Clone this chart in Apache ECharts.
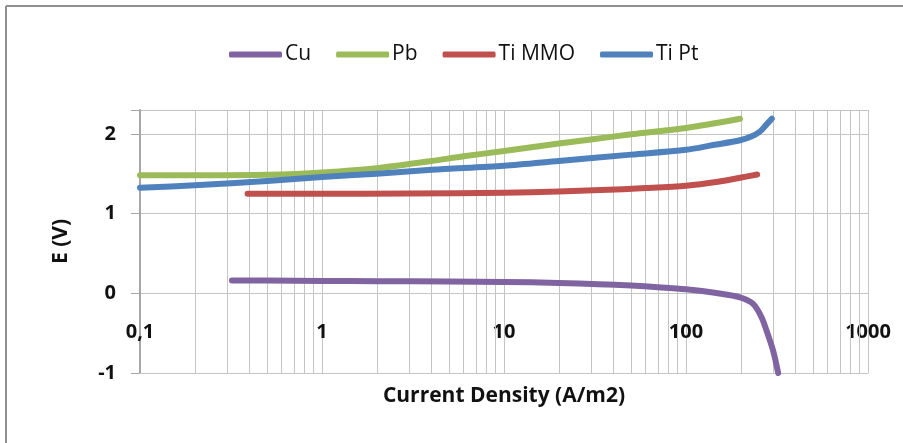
<!DOCTYPE html>
<html>
<head>
<meta charset="utf-8">
<script src="https://cdn.jsdelivr.net/npm/echarts@6/dist/echarts.min.js"></script>
<style>
  html, body { margin: 0; padding: 0; background: #fff; overflow: hidden; }
  #chart { width: 903px; height: 443px; }
</style>
</head>
<body>
<div id="chart"></div>
<script>
// Polarisation curves: electrode potential vs. current density (log scale)
const seriesNames = ['Cu', 'Pb', 'Ti MMO', 'Ti Pt'];
const seriesColors = ['#8064A2', '#9BBB59', '#C0504D', '#4F81BD'];

// [current density (A/m2), E (V)]
const cuData = [
  [0.32, 0.16], [0.5, 0.16], [1, 0.155], [2, 0.152], [5, 0.148], [10, 0.143],
  [20, 0.13], [33, 0.115], [50, 0.097], [70, 0.077], [100, 0.05], [150, 0.0],
  [198, -0.05], [233, -0.13], [260, -0.30], [283, -0.53], [302, -0.73], [321, -1.0]
];
const pbData = [
  [0.1, 1.48], [0.3, 1.48], [0.6, 1.49], [1, 1.515], [2, 1.57], [4, 1.66],
  [6, 1.72], [10, 1.785], [20, 1.88], [30, 1.93], [50, 1.995], [100, 2.075], [198, 2.19]
];
const tiMmoData = [
  [0.39, 1.25], [1, 1.25], [3, 1.252], [10, 1.262], [20, 1.278], [34, 1.295],
  [60, 1.32], [100, 1.35], [150, 1.40], [198, 1.45], [246, 1.49]
];
const tiPtData = [
  [0.1, 1.325], [0.2, 1.355], [0.5, 1.41], [1, 1.46], [2, 1.5], [4, 1.55],
  [10, 1.6], [20, 1.66], [50, 1.74], [100, 1.8], [141, 1.86], [198, 1.92],
  [230, 1.97], [255, 2.03], [275, 2.11], [296, 2.19]
];
const allData = [cuData, pbData, tiMmoData, tiPtData];

// Axis ranges and tick labels
const xMin = 0.1, xMax = 1000;
const yMin = -1, yMax = 2.3, yStep = 1;
const xTickLabels = { 0.1: '0,1', 1: '1', 10: '10', 100: '100', 1000: '1000' };

// Minor vertical gridlines at 2..9 of every decade
const minorGrid = [];
for (let d = xMin; d < xMax; d *= 10) {
  for (let k = 2; k <= 9; k++) minorGrid.push(+(d * k).toPrecision(3));
}

const gridColor = '#c4c4c4';
const axisColor = '#a6a6a6';
const fontFamily = '"Open Sans", "Liberation Sans", sans-serif';

const chart = echarts.init(document.getElementById('chart'), null, { renderer: 'canvas' });

const series = seriesNames.map((name, i) => ({
  name: name,
  type: 'line',
  data: allData[i],
  smooth: 0.3,
  showSymbol: false,
  symbol: 'none',
  z: 3,
  lineStyle: { color: seriesColors[i], width: 6, cap: 'round', join: 'round' },
  itemStyle: { color: seriesColors[i] }
}));

// minor gridlines drawn through the x scale
series.push({
  name: 'minor-grid',
  type: 'line',
  data: [],
  silent: true,
  markLine: {
    silent: true,
    z: 1,
    symbol: ['none', 'none'],
    label: { show: false },
    emphasis: { disabled: true },
    lineStyle: { color: gridColor, width: 1, type: 'solid' },
    data: minorGrid.map(v => ({ xAxis: v }))
  }
});

chart.setOption({
  animation: false,
  backgroundColor: '#ffffff',
  textStyle: { fontFamily: fontFamily },
  // chart frame: only its top and left edges fall inside the view
  graphic: [
    {
      type: 'line',
      shape: { x1: 6, y1: 6, x2: 903, y2: 6 },
      style: { stroke: '#8f8f8f', lineWidth: 2 },
      silent: true
    },
    {
      type: 'line',
      shape: { x1: 6, y1: 6, x2: 6, y2: 443 },
      style: { stroke: '#8f8f8f', lineWidth: 2 },
      silent: true
    }
  ],
  legend: {
    data: seriesNames,
    left: 229,
    top: 44,
    padding: 0,
    itemWidth: 53,
    itemHeight: 6,
    itemGap: 25,
    icon: 'roundRect',
    textStyle: { fontFamily: fontFamily, fontSize: 21, color: '#111', padding: [0, 0, 0, -2] }
  },
  grid: { left: 140, right: 35, top: 110, bottom: 70, containLabel: false, outerBoundsMode: 'none' },
  xAxis: {
    type: 'log',
    logBase: 10,
    min: xMin,
    max: xMax,
    name: 'Current Density (A/m2)',
    nameLocation: 'middle',
    nameGap: 13,
    nameTextStyle: { fontFamily: fontFamily, fontSize: 21, fontWeight: 'bold', color: '#111' },
    axisLine: { onZero: false, lineStyle: { color: gridColor, width: 1 } },
    axisTick: { show: false },
    axisLabel: {
      // tick labels sit just under the E = 0 line
      margin: -51,
      fontFamily: fontFamily, fontSize: 20, fontWeight: 'bold', color: '#111',
      formatter: v => xTickLabels[+(+v).toPrecision(3)] ?? ''
    },
    splitLine: { show: true, lineStyle: { color: gridColor, width: 1 } }
  },
  yAxis: {
    type: 'value',
    min: yMin,
    max: yMax,
    interval: yStep,
    name: 'E (V)',
    nameLocation: 'middle',
    nameRotate: 90,
    nameGap: 68,
    nameTextStyle: { fontFamily: fontFamily, fontSize: 21, fontWeight: 'bold', color: '#111' },
    axisLine: { show: true, onZero: false, lineStyle: { color: axisColor, width: 2 } },
    axisTick: { show: true, length: 9, inside: false, lineStyle: { color: axisColor, width: 1 } },
    axisLabel: {
      margin: 24,
      fontFamily: fontFamily, fontSize: 20, fontWeight: 'bold', color: '#111',
      formatter: v => (Math.abs(v - Math.round(v)) < 1e-9 ? String(Math.round(v)) : '')
    },
    splitLine: { show: true, lineStyle: { color: gridColor, width: 1 } }
  },
  series: series
});
</script>
</body>
</html>
